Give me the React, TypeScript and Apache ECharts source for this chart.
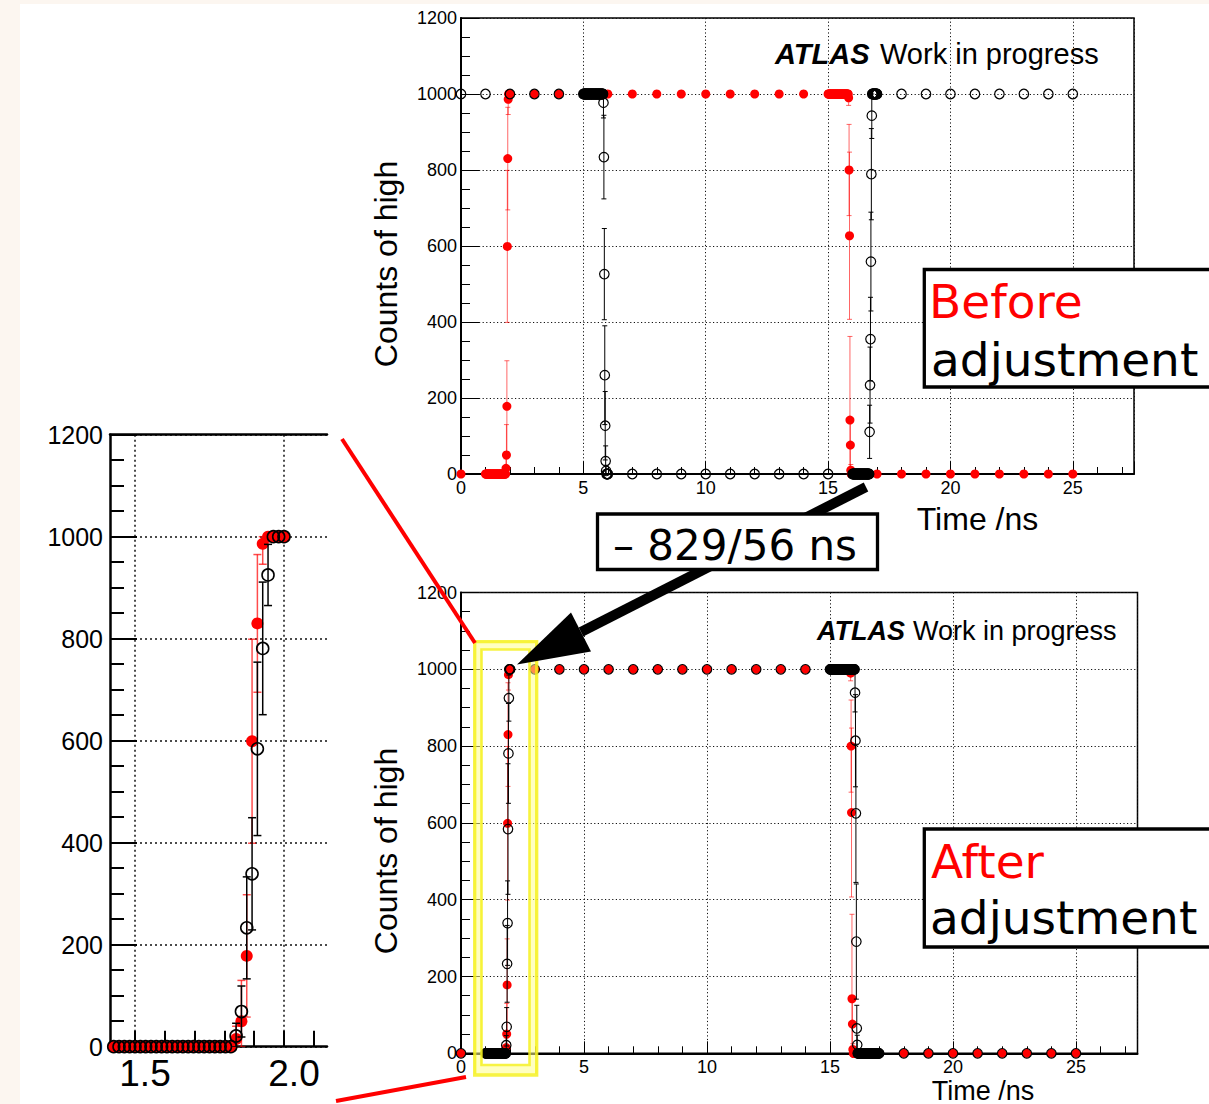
import React, { useEffect, useRef } from "react";
import * as echarts from "echarts";

// ---------------- data ----------------
// fine scan step (ns)
const FINE_STEP_NS = 1 / 56;

// axis labels of the zoomed panel
const zoomTimeLabels = [1.5, 2.0];
const zoomTimeTicks = [1.5, 1.6, 1.7, 1.8, 1.9, 2.0, 2.1];

// Red (filled) scan — identical in both panels
const redCoarseX = [0, 3, 4, 5, 6, 7, 8, 9, 10, 11, 12, 13, 14, 17, 18, 19, 20, 21, 22, 23, 24, 25];
const redCoarseY = [0, 1000, 1000, 1000, 1000, 1000, 1000, 1000, 1000, 1000, 1000, 1000, 1000, 0, 0, 0, 0, 0, 0, 0, 0, 0];

const redRiseStart = 1.0;
const redRise = [
  0, 0, 0, 0, 0, 0, 0, 0, 0, 0,
  0, 0, 0, 0, 0, 0, 0, 0, 0, 0,
  0, 0, 0, 0, 0, 0, 0, 0, 0, 0,
  0, 0, 0, 0, 0, 0, 0, 0, 0, 0,
  0, 0, 0, 0, 0, 0, 0,
  15, 50, 178, 599, 830, 986,
  1000, 1000, 1000, 1000,
];
const redRiseErrFrom = 47;
const redRiseErr = [25, 80, 120, 200, 135, 40];

const redFallStart = 15.0;
const redFall = [
  1000, 1000, 1000, 1000, 1000, 1000, 1000, 1000, 1000, 1000,
  1000, 1000, 1000, 1000, 1000, 1000, 1000, 1000, 1000, 1000,
  1000, 1000, 1000, 1000, 1000, 1000, 1000, 1000, 1000, 1000,
  1000, 1000, 1000, 1000, 1000, 1000, 1000, 1000, 1000, 1000,
  1000, 1000, 1000, 1000, 1000, 1000, 1000,
  990, 800, 627, 142, 76, 10, 0, 0, 0, 0,
];
const redFallErrFrom = 47;
const redFallErr = [20, 120, 220, 220, 60, 15];

// Black (open) scan — before adjustment
const blackBeforeCoarseX = [0, 1, 2, 3, 4, 7, 8, 9, 10, 11, 12, 13, 14, 15, 18, 19, 20, 21, 22, 23, 24, 25];
const blackBeforeCoarseY = [1000, 1000, 1000, 1000, 1000, 0, 0, 0, 0, 0, 0, 0, 0, 0, 1000, 1000, 1000, 1000, 1000, 1000, 1000, 1000];

const blackBeforeFallStart = 5.0;
const blackBeforeFall = [
  1000, 1000, 1000, 1000, 1000, 1000, 1000, 1000, 1000, 1000,
  1000, 1000, 1000, 1000, 1000, 1000, 1000, 1000, 1000, 1000,
  1000, 1000, 1000, 1000, 1000, 1000, 1000, 1000, 1000, 1000,
  1000, 1000, 1000, 1000, 1000, 1000, 1000, 1000, 1000, 1000,
  1000, 1000, 1000, 1000, 1000, 1000,
  977, 834, 526, 260, 127, 34, 8,
  0, 0, 0, 0,
];
const blackBeforeFallErrFrom = 46;
const blackBeforeFallErr = [40, 110, 120, 130, 90, 40, 15];

const blackBeforeRiseStart = 16.0;
const blackBeforeRise = [
  0, 0, 0, 0, 0, 0, 0, 0, 0, 0,
  0, 0, 0, 0, 0, 0, 0, 0, 0, 0,
  0, 0, 0, 0, 0, 0, 0, 0, 0, 0,
  0, 0, 0, 0, 0, 0, 0, 0, 0,
  111, 234, 355, 559, 789, 943,
  1000, 1000, 1000, 1000, 1000, 1000, 1000, 1000, 1000, 1000, 1000, 1000,
];
const blackBeforeRiseErrFrom = 39;
const blackBeforeRiseErr = [70, 100, 110, 130, 120, 60];

// Black (open) scan — after adjustment
const blackAfterCoarseX = [0, 3, 4, 5, 6, 7, 8, 9, 10, 11, 12, 13, 14, 18, 19, 20, 21, 22, 23, 24, 25];
const blackAfterCoarseY = [0, 1000, 1000, 1000, 1000, 1000, 1000, 1000, 1000, 1000, 1000, 1000, 1000, 0, 0, 0, 0, 0, 0, 0, 0];

const blackAfterRiseStart = 1.0;
const blackAfterRise = [
  0, 0, 0, 0, 0, 0, 0, 0, 0, 0,
  0, 0, 0, 0, 0, 0, 0, 0, 0, 0,
  0, 0, 0, 0, 0, 0, 0, 0, 0, 0,
  0, 0, 0, 0, 0, 0, 0, 0, 0, 0,
  0, 0, 0, 0, 0, 0, 0,
  21, 69, 233, 339, 584, 781, 925,
  1000, 1000, 1000,
];
const blackAfterRiseErrFrom = 47;
const blackAfterRiseErr = [25, 50, 100, 110, 170, 130, 60];

const blackAfterFallStart = 15.0;
const blackAfterFall = [
  1000, 1000, 1000, 1000, 1000, 1000, 1000, 1000, 1000, 1000,
  1000, 1000, 1000, 1000, 1000, 1000, 1000, 1000, 1000, 1000,
  1000, 1000, 1000, 1000, 1000, 1000, 1000, 1000, 1000, 1000,
  1000, 1000, 1000, 1000, 1000, 1000, 1000, 1000, 1000, 1000,
  1000, 1000, 1000, 1000, 1000, 1000, 1000, 1000, 1000, 1000,
  1000, 1000, 1000, 1000, 1000, 1000, 1000,
  939, 814, 625, 291, 65, 22,
  0, 0, 0, 0, 0, 0, 0, 0, 0, 0,
  0, 0, 0, 0, 0, 0, 0, 0, 0, 0,
  0, 0, 0, 0, 0, 0, 0, 0, 0, 0,
  0, 0, 0, 0, 0, 0, 0, 0, 0, 0,
  0, 0, 0, 0, 0, 0, 0, 0, 0, 0,
];
const blackAfterFallErrFrom = 57;
const blackAfterFallErr = [50, 120, 180, 150, 60, 25];

// ---------------- helpers ----------------
type Pt = [number, number, number];

function coarse(xs: number[], ys: number[]): Pt[] {
  return xs.map((x, i) => [x, ys[i], 0] as Pt);
}
function fine(start: number, ys: number[], errFrom: number, errs: number[]): Pt[] {
  return ys.map((y, i) => {
    const j = i - errFrom;
    return [start + i * FINE_STEP_NS, y, j >= 0 && j < errs.length ? errs[j] : 0] as Pt;
  });
}

const redAll: Pt[] = [
  ...coarse(redCoarseX, redCoarseY),
  ...fine(redRiseStart, redRise, redRiseErrFrom, redRiseErr),
  ...fine(redFallStart, redFall, redFallErrFrom, redFallErr),
];
const blackBeforeAll: Pt[] = [
  ...coarse(blackBeforeCoarseX, blackBeforeCoarseY),
  ...fine(blackBeforeFallStart, blackBeforeFall, blackBeforeFallErrFrom, blackBeforeFallErr),
  ...fine(blackBeforeRiseStart, blackBeforeRise, blackBeforeRiseErrFrom, blackBeforeRiseErr),
];
const blackAfterAll: Pt[] = [
  ...coarse(blackAfterCoarseX, blackAfterCoarseY),
  ...fine(blackAfterRiseStart, blackAfterRise, blackAfterRiseErrFrom, blackAfterRiseErr),
  ...fine(blackAfterFallStart, blackAfterFall, blackAfterFallErrFrom, blackAfterFallErr),
];

const ZOOM_MIN = 1.4161;
const ZOOM_MAX = 2.1443;
const inZoom = (p: Pt) => p[0] >= ZOOM_MIN && p[0] <= ZOOM_MAX;

const FONT = '"Liberation Sans", Arial, Helvetica, sans-serif';
const BOX_FONT = '"DejaVu Sans", Verdana, sans-serif';

const dotted = { show: true, lineStyle: { color: "#111", width: 1, type: [1.2, 2.4] } };

function errSeries(xi: number, yi: number, pts: Pt[], color: string, width: number, cap: number, z: number) {
  return {
    type: "custom",
    xAxisIndex: xi,
    yAxisIndex: yi,
    z,
    silent: true,
    clip: true,
    data: pts.filter((p) => p[2] > 0),
    encode: { x: 0, y: 1 },
    renderItem: (_params: any, api: any) => {
      const x = api.value(0);
      const y = api.value(1);
      const e = api.value(2);
      const hi = api.coord([x, Math.min(1000, y + e)]);
      const lo = api.coord([x, Math.max(0, y - e)]);
      const st = { stroke: color, lineWidth: width };
      return {
        type: "group",
        children: [
          { type: "line", shape: { x1: hi[0], y1: hi[1], x2: lo[0], y2: lo[1] }, style: st },
          { type: "line", shape: { x1: hi[0] - cap, y1: hi[1], x2: hi[0] + cap, y2: hi[1] }, style: st },
          { type: "line", shape: { x1: lo[0] - cap, y1: lo[1], x2: lo[0] + cap, y2: lo[1] }, style: st },
        ],
      };
    },
  };
}

function redScatter(xi: number, yi: number, pts: Pt[], size: number) {
  return {
    type: "scatter",
    xAxisIndex: xi,
    yAxisIndex: yi,
    z: 3,
    silent: true,
    clip: false,
    symbol: "circle",
    symbolSize: size,
    data: pts.map((p) => [p[0], p[1]]),
    itemStyle: { color: "#ff0000", opacity: 1 },
    emphasis: { disabled: true },
  };
}
function blackScatter(xi: number, yi: number, pts: Pt[], size: number, bw: number) {
  return {
    type: "scatter",
    xAxisIndex: xi,
    yAxisIndex: yi,
    z: 5,
    silent: true,
    clip: false,
    symbol: "circle",
    symbolSize: size,
    data: pts.map((p) => [p[0], p[1]]),
    itemStyle: { color: "rgba(0,0,0,0)", borderColor: "#000", borderWidth: bw, opacity: 1 },
    emphasis: { disabled: true },
  };
}

const plain = (v: number) => String(v);

function mainX(gi: number) {
  return {
    type: "value",
    gridIndex: gi,
    min: 0,
    max: 27.5,
    interval: 5,
    position: "bottom",
    axisLine: { show: true, onZero: false, lineStyle: { color: "#000", width: 2 } },
    axisTick: { show: true, inside: true, length: 12, lineStyle: { color: "#000", width: 1 } },
    axisLabel: {
      show: true,
      color: "#000",
      fontSize: 18,
      fontFamily: FONT,
      margin: 5,
      formatter: (v: number) => (v % 5 === 0 ? String(v) : ""),
    },
    splitLine: dotted,
  };
}
function minorX(gi: number) {
  return {
    type: "value",
    gridIndex: gi,
    min: 0,
    max: 27.5,
    interval: 1,
    position: "bottom",
    axisLine: { show: false, onZero: false },
    axisTick: { show: true, inside: true, length: 7, lineStyle: { color: "#000", width: 1 } },
    axisLabel: { show: false },
    splitLine: { show: false },
  };
}
function mainY(gi: number) {
  return {
    type: "value",
    gridIndex: gi,
    min: 0,
    max: 1200,
    interval: 200,
    axisLine: { show: true, onZero: false, lineStyle: { color: "#000", width: 2 } },
    axisTick: { show: true, inside: true, length: 18, lineStyle: { color: "#000", width: 1 } },
    minorTick: { show: true, splitNumber: 4, length: 9, lineStyle: { color: "#000", width: 1 } },
    axisLabel: { color: "#000", fontSize: 18, fontFamily: FONT, margin: 4, formatter: plain },
    splitLine: dotted,
  };
}

function txt(x: number, y: number, text: string, font: string, fill = "#000", align = "left", rotation = 0, z = 61) {
  return {
    type: "text",
    x,
    y,
    rotation,
    z,
    silent: true,
    style: {
      text,
      font,
      fill,
      align,
      verticalAlign: "middle",
      textAlign: align,
      textVerticalAlign: "middle",
    },
  };
}

function buildOption() {
  const redZoom = redAll.filter(inZoom);
  const blackZoom = blackAfterAll.filter(inZoom);

  return {
    animation: false,
    backgroundColor: "#ffffff",
    grid: [
      { left: 461, top: 18, width: 673, height: 456, show: true, borderColor: "#000", borderWidth: 1.5, backgroundColor: "transparent" },
      { left: 461, top: 592.5, width: 676.5, height: 460.8, show: true, borderColor: "#000", borderWidth: 1.5, backgroundColor: "transparent" },
      { left: 110, top: 434.7, width: 217, height: 612, show: false },
    ],
    xAxis: [
      mainX(0),
      minorX(0),
      mainX(1),
      minorX(1),
      {
        type: "value",
        gridIndex: 2,
        min: ZOOM_MIN,
        max: ZOOM_MAX,
        position: "bottom",
        axisLine: { show: true, onZero: false, lineStyle: { color: "#000", width: 2.5 } },
        axisTick: { show: true, inside: true, length: 16, customValues: zoomTimeTicks, lineStyle: { color: "#000", width: 2 } },
        axisLabel: {
          show: true,
          customValues: zoomTimeLabels,
          formatter: (v: number) => v.toFixed(1),
          color: "#000",
          fontSize: 37,
          fontFamily: FONT,
          margin: 8,
          padding: [0, 0, 0, 20],
        },
        splitLine: { show: false },
      },
      {
        type: "value",
        gridIndex: 2,
        min: ZOOM_MIN,
        max: ZOOM_MAX,
        position: "top",
        axisLine: { show: true, onZero: false, lineStyle: { color: "#000", width: 2.5 } },
        axisTick: { show: true, length: 0, customValues: zoomTimeLabels },
        axisLabel: { show: false },
        splitLine: { show: true, lineStyle: { color: "#111", width: 1.5, type: [2, 3] } },
      },
    ],
    yAxis: [
      mainY(0),
      mainY(1),
      {
        type: "value",
        gridIndex: 2,
        min: 0,
        max: 1200,
        interval: 200,
        axisLine: { show: true, onZero: false, lineStyle: { color: "#000", width: 2.5 } },
        axisTick: { show: true, inside: true, length: 27, lineStyle: { color: "#000", width: 2 } },
        minorTick: { show: true, splitNumber: 4, length: 14, lineStyle: { color: "#000", width: 2 } },
        axisLabel: { color: "#000", fontSize: 25, fontFamily: FONT, margin: 7, formatter: plain },
        splitLine: { show: true, lineStyle: { color: "#111", width: 1.5, type: [2, 3] } },
      },
    ],
    series: [
      // before
      errSeries(0, 0, redAll, "rgba(255,0,0,0.6)", 1, 2.5, 2),
      redScatter(0, 0, redAll, 9),
      errSeries(0, 0, blackBeforeAll, "#000", 1, 2.5, 4),
      blackScatter(0, 0, blackBeforeAll, 9.5, 1.2),
      // after
      errSeries(2, 1, redAll, "rgba(255,0,0,0.6)", 1, 2.5, 2),
      redScatter(2, 1, redAll, 9),
      errSeries(2, 1, blackAfterAll, "#000", 1, 2.5, 4),
      blackScatter(2, 1, blackAfterAll, 9.5, 1.2),
      // zoom
      errSeries(4, 2, redZoom, "rgba(255,0,0,0.7)", 1.5, 4, 2),
      redScatter(4, 2, redZoom, 12),
      errSeries(4, 2, blackZoom, "#000", 1.5, 4, 4),
      blackScatter(4, 2, blackZoom, 12, 1.6),
    ],
    graphic: {
      elements: [
        // page edge strips
        { type: "rect", z: 1, silent: true, shape: { x: 0, y: 0, width: 1209, height: 4 }, style: { fill: "#fcf6f0" } },
        { type: "rect", z: 1, silent: true, shape: { x: 0, y: 0, width: 20, height: 1104 }, style: { fill: "#fcf6f0" } },

        // axis titles
        txt(386, 264, "Counts of high", `32px ${FONT}`, "#000", "center", Math.PI / 2, 40),
        txt(386, 851, "Counts of high", `32px ${FONT}`, "#000", "center", Math.PI / 2, 40),
        txt(977.5, 518.7, "Time /ns", `32px ${FONT}`, "#000", "center", 0, 40),
        txt(983, 1090.5, "Time /ns", `27px ${FONT}`, "#000", "center", 0, 40),

        // ATLAS labels
        txt(775, 54, "ATLAS", `italic bold 29px ${FONT}`, "#000", "left", 0, 40),
        txt(880, 54, "Work in progress", `29px ${FONT}`, "#000", "left", 0, 40),
        txt(817, 630.6, "ATLAS", `italic bold 27px ${FONT}`, "#000", "left", 0, 40),
        txt(913, 630.6, "Work in progress", `27px ${FONT}`, "#000", "left", 0, 40),

        // yellow highlight frame
        { type: "rect", z: 56, silent: true, shape: { x: 478, y: 645, width: 55.5, height: 425 }, style: { fill: "none", stroke: "rgba(255,255,140,0.55)", lineWidth: 8 } },
        { type: "rect", z: 56, silent: true, shape: { x: 474.7, y: 641.7, width: 62, height: 433.3 }, style: { fill: "none", stroke: "rgba(245,240,20,0.8)", lineWidth: 3.3 } },
        { type: "rect", z: 56, silent: true, shape: { x: 481.5, y: 649.5, width: 48, height: 415.5 }, style: { fill: "none", stroke: "rgba(245,240,20,0.8)", lineWidth: 2.6 } },

        // red zoom guide lines
        { type: "line", z: 57, silent: true, shape: { x1: 342, y1: 439, x2: 475, y2: 643 }, style: { stroke: "#ff0000", lineWidth: 4 } },
        { type: "line", z: 57, silent: true, shape: { x1: 336, y1: 1101, x2: 466, y2: 1077 }, style: { stroke: "#ff0000", lineWidth: 4 } },

        // arrow
        { type: "line", z: 58, silent: true, shape: { x1: 866, y1: 487, x2: 581, y2: 632 }, style: { stroke: "#000", lineWidth: 10, lineCap: "butt" } },
        { type: "polygon", z: 58, silent: true, shape: { points: [[517, 664.5], [571, 612.4], [591, 651.6]] }, style: { fill: "#000" } },

        // shift box
        { type: "rect", z: 60, silent: true, shape: { x: 597.5, y: 514, width: 280, height: 55.5 }, style: { fill: "#fff", stroke: "#000", lineWidth: 3.3 } },
        txt(735, 545.8, "– 829/56 ns", `42px ${BOX_FONT}`, "#000", "center"),

        // before box
        { type: "rect", z: 60, silent: true, shape: { x: 924.3, y: 269.5, width: 300, height: 117.5 }, style: { fill: "#fff", stroke: "#000", lineWidth: 3.3 } },
        txt(929, 301, "Before", `47px ${BOX_FONT}`, "#ff0000"),
        txt(931, 359.3, "adjustment", `47px ${BOX_FONT}`, "#000"),

        // after box
        { type: "rect", z: 60, silent: true, shape: { x: 924.3, y: 829, width: 300, height: 118 }, style: { fill: "#fff", stroke: "#000", lineWidth: 3.3 } },
        txt(931, 861, "After", `47px ${BOX_FONT}`, "#ff0000"),
        txt(930, 917.7, "adjustment", `47px ${BOX_FONT}`, "#000"),
      ],
    },
  };
}

export default function App() {
  const ref = useRef<HTMLDivElement>(null);
  useEffect(() => {
    if (!ref.current) return;
    const chart = echarts.init(ref.current, undefined, { renderer: "svg", width: 1209, height: 1104 });
    chart.setOption(buildOption() as any);
    return () => chart.dispose();
  }, []);
  return (
    <div
      ref={ref}
      style={{ position: "absolute", left: 0, top: 0, width: 1209, height: 1104, background: "#fff" }}
    />
  );
}
